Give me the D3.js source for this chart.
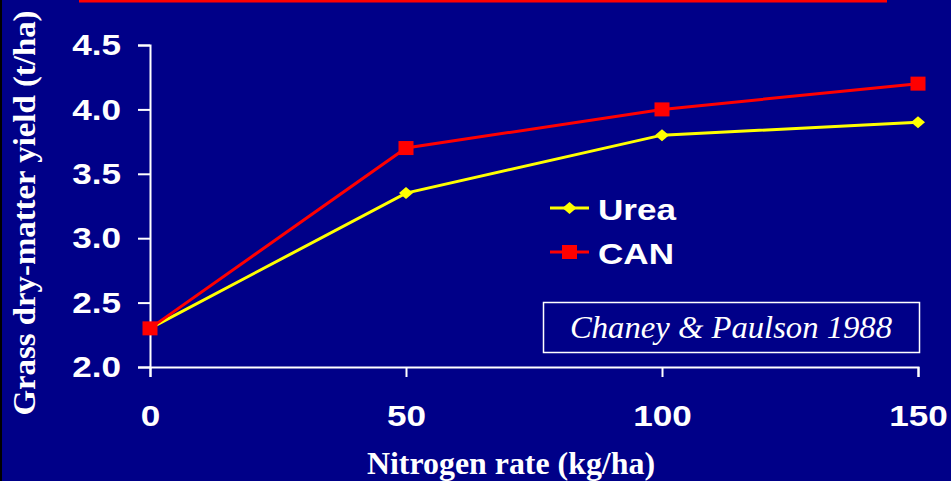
<!DOCTYPE html>
<html><head><meta charset="utf-8">
<script src="https://cdn.jsdelivr.net/npm/d3@7"></script>
<style>
html,body{margin:0;padding:0;background:#000088;overflow:hidden}
svg{display:block}
</style></head>
<body><svg id="c" width="951" height="481"></svg>
<script>
const nitrogenRates = [0, 50, 100, 150];
const ureaYield = [2.3, 3.35, 3.8, 3.9];
const canYield = [2.3, 3.7, 4.0, 4.2];
const yTicks = [2.0, 2.5, 3.0, 3.5, 4.0, 4.5];
const xTicks = [0, 50, 100, 150];
const seriesNames = ["Urea", "CAN"];
const xTitle = "Nitrogen rate (kg/ha)";
const yTitle = "Grass dry-matter yield (t/ha)";
const citation = "Chaney & Paulson 1988";

const svg = d3.select("#c");
const bg = "#000088";
svg.append("rect").attr("width", 951).attr("height", 481).attr("fill", bg);
svg.append("rect").attr("x", 0).attr("y", 0).attr("width", 2).attr("height", 481).attr("fill", "#000");
svg.append("rect").attr("x", 79).attr("y", 0).attr("width", 808).attr("height", 2.5).attr("fill", "#ff0000");

const x = d3.scaleLinear().domain([0, 150]).range([150, 918]);
const y = d3.scaleLinear().domain([2.0, 4.5]).range([367, 45]);

const sansBold = "'Liberation Sans', Arial, sans-serif";
const serif = "'Liberation Serif', 'Times New Roman', serif";

function stretch(sel, k) {
  sel.each(function () {
    const w = this.getComputedTextLength();
    d3.select(this).attr("textLength", w * k).attr("lengthAdjust", "spacingAndGlyphs");
  });
}

const yAxis = svg.append("g").attr("transform", `translate(${x(0)},0)`)
  .call(d3.axisLeft(y).tickValues(yTicks).tickSize(12).tickPadding(17).tickFormat(d3.format(".1f")));
const xAxis = svg.append("g").attr("transform", `translate(0,${y(2.0)})`)
  .call(d3.axisBottom(x).tickValues(xTicks).tickSize(10).tickPadding(28).tickFormat(d3.format("d")));

[yAxis, xAxis].forEach(a => {
  a.selectAll("path,line").attr("stroke", "#fff").attr("stroke-width", 2);
  a.selectAll("text").attr("fill", "#fff").style("font-family", sansBold)
    .style("font-weight", "bold").style("font-size", "30px");
});
stretch(yAxis.selectAll("text"), 1.17);
stretch(xAxis.selectAll("text"), 1.17);

const line = d3.line().x((d, i) => x(nitrogenRates[i])).y(d => y(d));
const colors = { Urea: "#ffff00", CAN: "#ff0000" };

svg.append("path").datum(ureaYield).attr("d", line).attr("fill", "none")
  .attr("stroke", colors.Urea).attr("stroke-width", 3);
svg.selectAll(".dia").data(ureaYield).enter().append("path")
  .attr("d", "M0,-6 L7,0 L0,6 L-7,0 Z").attr("fill", colors.Urea)
  .attr("transform", (d, i) => `translate(${x(nitrogenRates[i])},${y(d)})`);

svg.append("path").datum(canYield).attr("d", line).attr("fill", "none")
  .attr("stroke", colors.CAN).attr("stroke-width", 3);
svg.selectAll(".sq").data(canYield).enter().append("rect")
  .attr("x", (d, i) => x(nitrogenRates[i]) - 7.5).attr("y", d => y(d) - 7)
  .attr("width", 15).attr("height", 14).attr("fill", colors.CAN);

// legend
const leg = svg.append("g");
const legY = [208, 252];
seriesNames.forEach((name, i) => {
  const g = leg.append("g").attr("transform", `translate(0,${legY[i]})`);
  g.append("line").attr("x1", 550).attr("x2", 589).attr("stroke", colors[name]).attr("stroke-width", 3);
  if (name === "Urea") {
    g.append("path").attr("d", "M0,-6 L7,0 L0,6 L-7,0 Z").attr("fill", colors[name]).attr("transform", "translate(569.5,0)");
  } else {
    g.append("rect").attr("x", 562).attr("y", -7).attr("width", 15).attr("height", 14).attr("fill", colors[name]);
  }
  const t = g.append("text").attr("x", 598).attr("y", 12).text(name).attr("fill", "#fff")
    .style("font-family", sansBold).style("font-weight", "bold").style("font-size", "30px");
  stretch(t, 1.17);
});

// citation box
svg.append("rect").attr("x", 543.5).attr("y", 302.5).attr("width", 376).attr("height", 50)
  .attr("fill", "none").attr("stroke", "#fff").attr("stroke-width", 1.5);
svg.append("text").attr("x", 731).attr("y", 338).attr("text-anchor", "middle").text(citation)
  .attr("fill", "#fff").style("font-family", serif).style("font-style", "italic").style("font-size", "32px")
  .attr("textLength", 322).attr("lengthAdjust", "spacingAndGlyphs");

// axis titles
svg.append("text").attr("x", 511).attr("y", 474).attr("text-anchor", "middle").text(xTitle)
  .attr("fill", "#fff").style("font-family", serif).style("font-weight", "bold").style("font-size", "31px")
  .attr("textLength", 288).attr("lengthAdjust", "spacingAndGlyphs");
svg.append("text").attr("transform", "translate(35,213) rotate(-90)").attr("text-anchor", "middle").text(yTitle)
  .attr("fill", "#fff").style("font-family", serif).style("font-weight", "bold").style("font-size", "31px")
  .attr("textLength", 405).attr("lengthAdjust", "spacingAndGlyphs");
</script></body></html>
